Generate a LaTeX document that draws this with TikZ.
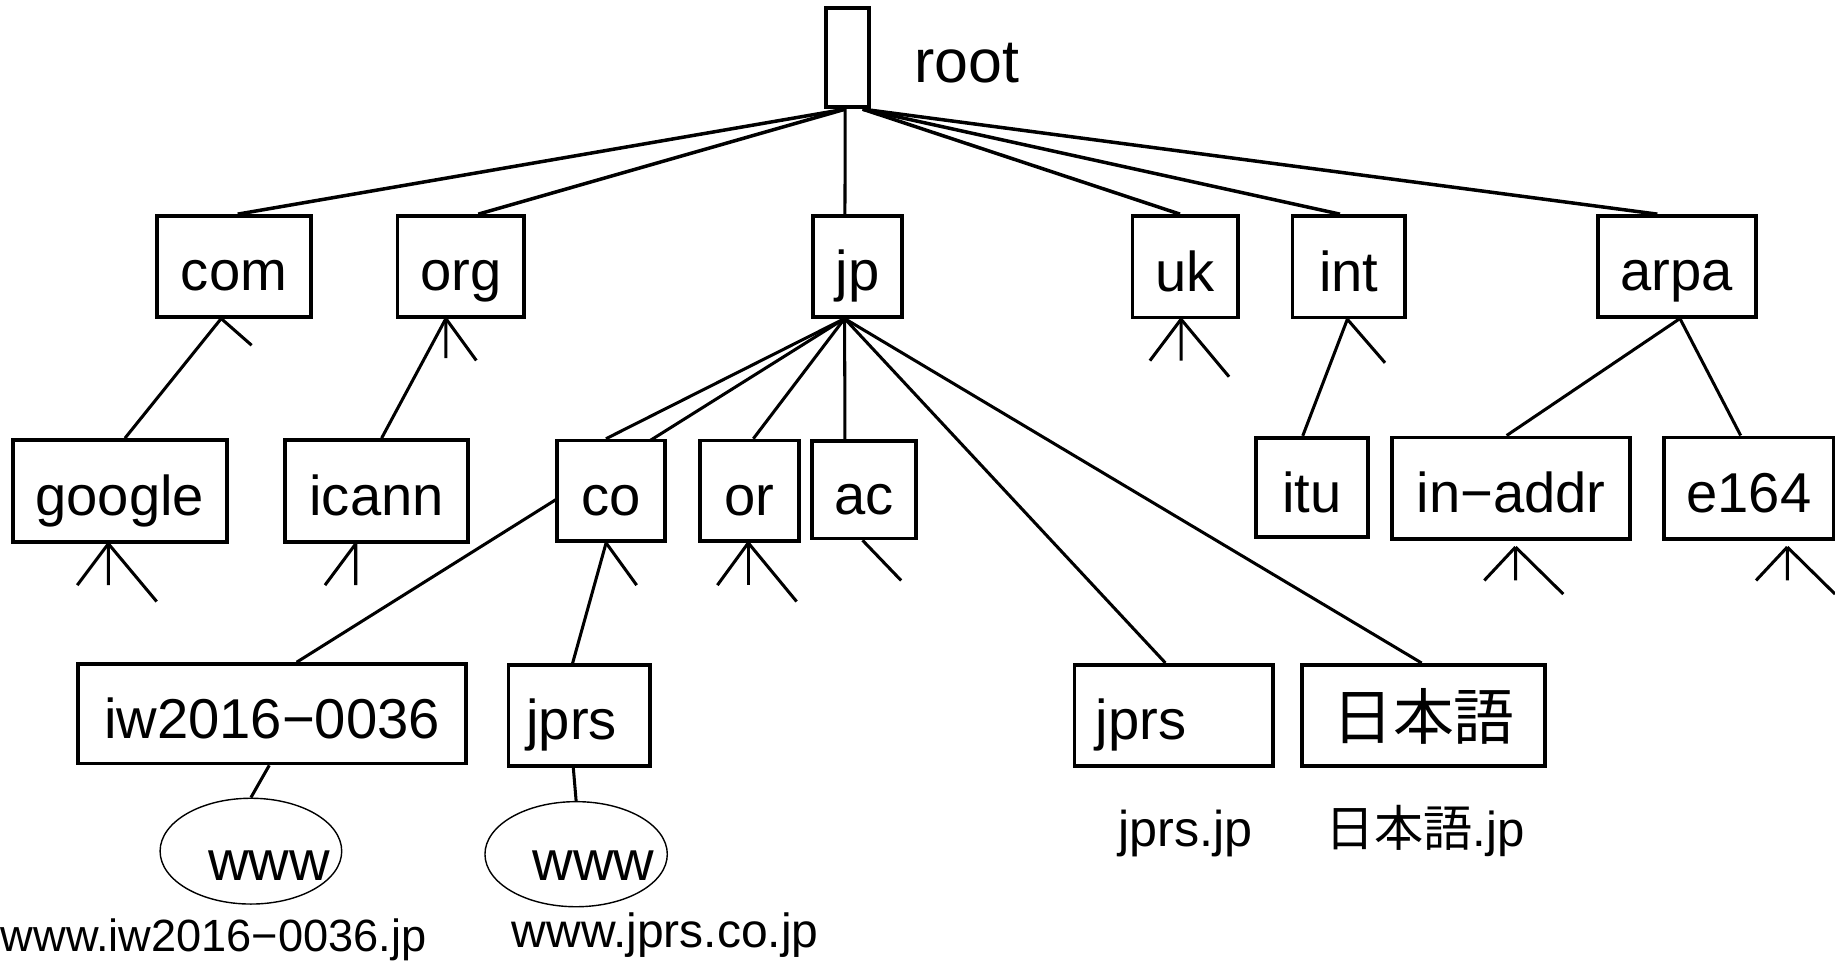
\documentclass[tikz,border=0pt]{standalone}
\usepackage{fontspec}
\setmainfont{Liberation Sans}
\newfontfamily\cjk{Noto Sans CJK JP}
\usetikzlibrary{shapes.geometric}
\pgfdeclarelayer{bg}
\pgfsetlayers{bg,main}

\tikzset{
  box/.style={draw, fill=white, line width=3.2bp, inner sep=0pt,
    text height=42bp, text depth=0pt, font=\fontsize{48bp}{56bp}\selectfont},
  sz/.style 2 args={minimum width=#1bp, minimum height=#2bp},
  wire/.style={line width=2.6bp},
  oval/.style={draw, ellipse, fill=white, line width=1.2bp, inner sep=0pt},
  txt/.style={inner sep=0pt, font=\fontsize{48bp}{56bp}\selectfont},
  caption/.style={inner sep=0pt, font=\fontsize{41bp}{48bp}\selectfont},
  capbig/.style={inner sep=0pt, font=\fontsize{43bp}{50bp}\selectfont},
}

\begin{document}
\begin{tikzpicture}[x=1bp, y=-1bp]
\useasboundingbox (0,0) rectangle (1568,822);

% ---- root ----
\node[box, sz={37.3}{84.6}] (root) at (724.2,49.4) {};
\node[txt, anchor=base west, font=\fontsize{52bp}{60bp}\selectfont] (rootlabel) at (781,70.4) {root};

% ---- top-level domains ----
\node[box, sz={132}{86}]    (com)  at (200,227.6)   {com};
\node[box, sz={108.3}{86}]  (org)  at (393.7,227.6) {org};
\node[box, sz={76.3}{86}]   (jp)   at (732.7,227.6) {jp};
\node[box, sz={90.5}{86.6}] (uk)   at (1012.9,227.9) {uk};
\node[box, sz={96.3}{86.6}] (int)  at (1152.5,227.9) {int};
\node[box, sz={135}{86}]    (arpa) at (1432.7,227.6) {arpa};

% ---- second level ----
\node[box, sz={182.9}{87}]   (google) at (102.3,419.5)  {google};
\node[box, sz={156.5}{87}]   (icann)  at (321.8,419.5)  {icann};
\node[box, sz={92.3}{85.8}]  (co)     at (521.9,419.4)  {co};
\node[box, sz={84.7}{85.8}]  (orjp)   at (640.4,419.4)  {or};
\node[box, sz={88.7}{83.5}]  (ac)     at (738.4,418.3)  {ac};
\node[box, sz={95.7}{85}]    (itu)    at (1121.2,416.5) {itu};
\node[box, sz={203.1}{87.1}] (inaddr) at (1291.3,417.3) {in−addr};
\node[box, sz={144.8}{87.1}] (e164)   at (1494.4,417.3) {e164};

% ---- third level ----
\node[box, sz={331.3}{84.9}] (iw)      at (232.5,609.9)  {iw2016−0036};
\node[box, sz={121}{86.3}]   (jprsco)  at (494.9,611.4)  {};
\node[txt, anchor=base] (jprscotext) at (488.5,631.8) {jprs};
\node[box, sz={169.5}{86.5}] (jprsjp)  at (1002.8,611.3) {};
\node[txt, anchor=base west] (jprsjptext) at (936,632) {jprs};
\node[box, sz={207.9}{86.3}, font=\cjk\fontsize{52bp}{60bp}\selectfont] (nihongo) at (1216.3,611.3) {日本語};

% ---- hosts ----
\node[oval, minimum width=155.2bp, minimum height=90.4bp] (www1) at (214.4,727.3) {};
\node[txt, anchor=base] (www1text) at (230,752) {www};
\node[oval, minimum width=155.8bp, minimum height=89.8bp] (www2) at (492.3,729.9) {};
\node[txt, anchor=base] (www2text) at (507.3,752.5) {www};

% ---- full names ----
\node[caption, anchor=base west, font=\fontsize{38.6bp}{46bp}\selectfont] (fqdn1) at (0.5,813) {www.iw2016−0036.jp};
\node[caption, anchor=base west] (fqdn2) at (437.2,810) {www.jprs.co.jp};
\node[capbig, anchor=base west] (fqdn3) at (955.6,723.5) {jprs.jp};
\node[capbig, anchor=base west, font=\fontsize{42bp}{50bp}\selectfont] (fqdn4) at (1132,723) {{\cjk 日本語}.jp};

% ---- branch points ----
\coordinate (rootL) at ([xshift=-2bp]root.south);
\coordinate (rootR) at ([xshift=13bp]root.south);
\coordinate (comA)  at ([xshift=-11bp]com.south);
\coordinate (orgA)  at ([xshift=-12.7bp]org.south);
\coordinate (jpA)   at ([xshift=-11bp]jp.south);
\coordinate (ukA)   at ([xshift=-3.7bp]uk.south);
\coordinate (intA)  at ([xshift=-1.2bp]int.south);
\coordinate (arpaA) at ([xshift=2.8bp]arpa.south);
\coordinate (googleA) at ([xshift=-9.7bp]google.south);
\coordinate (icannA)  at ([xshift=-17.8bp]icann.south);
\coordinate (coA)     at ([xshift=-4bp]co.south);
\coordinate (orA)     at ([xshift=-1bp]orjp.south);
\coordinate (acA)     at ([xshift=-1.4bp]ac.south);
\coordinate (inaddrA) at ([xshift=3.7bp,yshift=-5bp]inaddr.south);
\coordinate (e164A)   at ([xshift=32.8bp,yshift=-5bp]e164.south);

% ---- loose ends of unnamed subtrees ----
\coordinate (comS)  at (215,295);
\coordinate (orgS1) at (381,306);
\coordinate (orgS2) at (407,308);
\coordinate (ggS1) at (66,500);
\coordinate (ggS2) at (92.6,500);
\coordinate (ggS3) at (133.9,514);
\coordinate (icS1) at (277.7,500);
\coordinate (icS2) at (304,500);
\coordinate (coS)  at (544,500);
\coordinate (orS1) at (613,500);
\coordinate (orS2) at (639.4,500);
\coordinate (orS3) at (680.7,514);
\coordinate (acS)  at (770,496);
\coordinate (ukS1) at (982.6,308.2);
\coordinate (ukS2) at (1009.2,308.2);
\coordinate (ukS3) at (1050.2,321.9);
\coordinate (intS) at (1183.5,310);
\coordinate (iaS1) at (1268.3,496);
\coordinate (iaS2) at (1295,496);
\coordinate (iaS3) at (1335.8,507.6);
\coordinate (eS1)  at (1500.5,496);
\coordinate (eS2)  at (1527.2,496);
\coordinate (eS3)  at (1568,507.6);

\begin{pgfonlayer}{bg}
  % root to top-level domains
  \draw[wire, line width=3bp] (rootL) -- ([xshift=3.1bp]com.north);
  \draw[wire, line width=3bp] (rootL) -- ([xshift=15bp]org.north);
  \draw[wire] (rootL) -- ([xshift=-10.7bp]jp.north);
  \draw[wire, line width=3bp] (rootR) -- ([xshift=-4.6bp]uk.north);
  \draw[wire, line width=3bp] (rootR) -- ([xshift=-7.5bp]int.north);
  \draw[wire, line width=3bp] (rootR) -- ([xshift=-16.5bp]arpa.north);

  % com, org
  \draw[wire] (comA) -- ([xshift=4.5bp]google.north);
  \draw[wire] (comA) -- (comS);
  \draw[wire] (orgA) -- ([xshift=4.3bp]icann.north);
  \draw[wire] (orgA) -- (orgS1);
  \draw[wire] (orgA) -- (orgS2);

  % jp
  \draw[wire] (jpA) -- ([xshift=-4.1bp]co.north);
  \draw[wire] (jpA) -- ([xshift=21bp]iw.north);
  \draw[wire] (jpA) -- ([xshift=3.3bp]orjp.north);
  \draw[wire] (jpA) -- ([xshift=-16.4bp]ac.north);
  \draw[wire] (jpA) -- ([xshift=-7bp]jprsjp.north);
  \draw[wire] (jpA) -- ([xshift=-1.5bp]nihongo.north);

  % co
  \draw[wire] (coA) -- ([xshift=-5.6bp]jprsco.north);
  \draw[wire] (coA) -- (coS);

  % uk, int, arpa
  \draw[wire] (ukA) -- (ukS1);
  \draw[wire] (ukA) -- (ukS2);
  \draw[wire] (ukA) -- (ukS3);
  \draw[wire] (intA) -- ([xshift=-8bp]itu.north);
  \draw[wire] (intA) -- (intS);
  \draw[wire] (arpaA) -- ([xshift=-3.9bp]inaddr.north);
  \draw[wire] (arpaA) -- ([xshift=-7bp]e164.north);

  % subtrees below second level
  \draw[wire] (googleA) -- (ggS1);
  \draw[wire] (googleA) -- (ggS2);
  \draw[wire] (googleA) -- (ggS3);
  \draw[wire] (icannA) -- (icS1);
  \draw[wire] (icannA) -- (icS2);
  \draw[wire] (orA) -- (orS1);
  \draw[wire] (orA) -- (orS2);
  \draw[wire] (orA) -- (orS3);
  \draw[wire] (acA) -- (acS);
  \draw[wire] (inaddrA) -- (iaS1);
  \draw[wire] (inaddrA) -- (iaS2);
  \draw[wire] (inaddrA) -- (iaS3);
  \draw[wire] (e164A) -- (eS1);
  \draw[wire] (e164A) -- (eS2);
  \draw[wire] (e164A) -- (eS3);

  % hosts
  \draw[wire] ([xshift=-2.4bp]iw.south) -- (www1.north);
  \draw[wire] ([xshift=-5bp]jprsco.south) -- (www2.north);
\end{pgfonlayer}
\end{tikzpicture}
\end{document}
